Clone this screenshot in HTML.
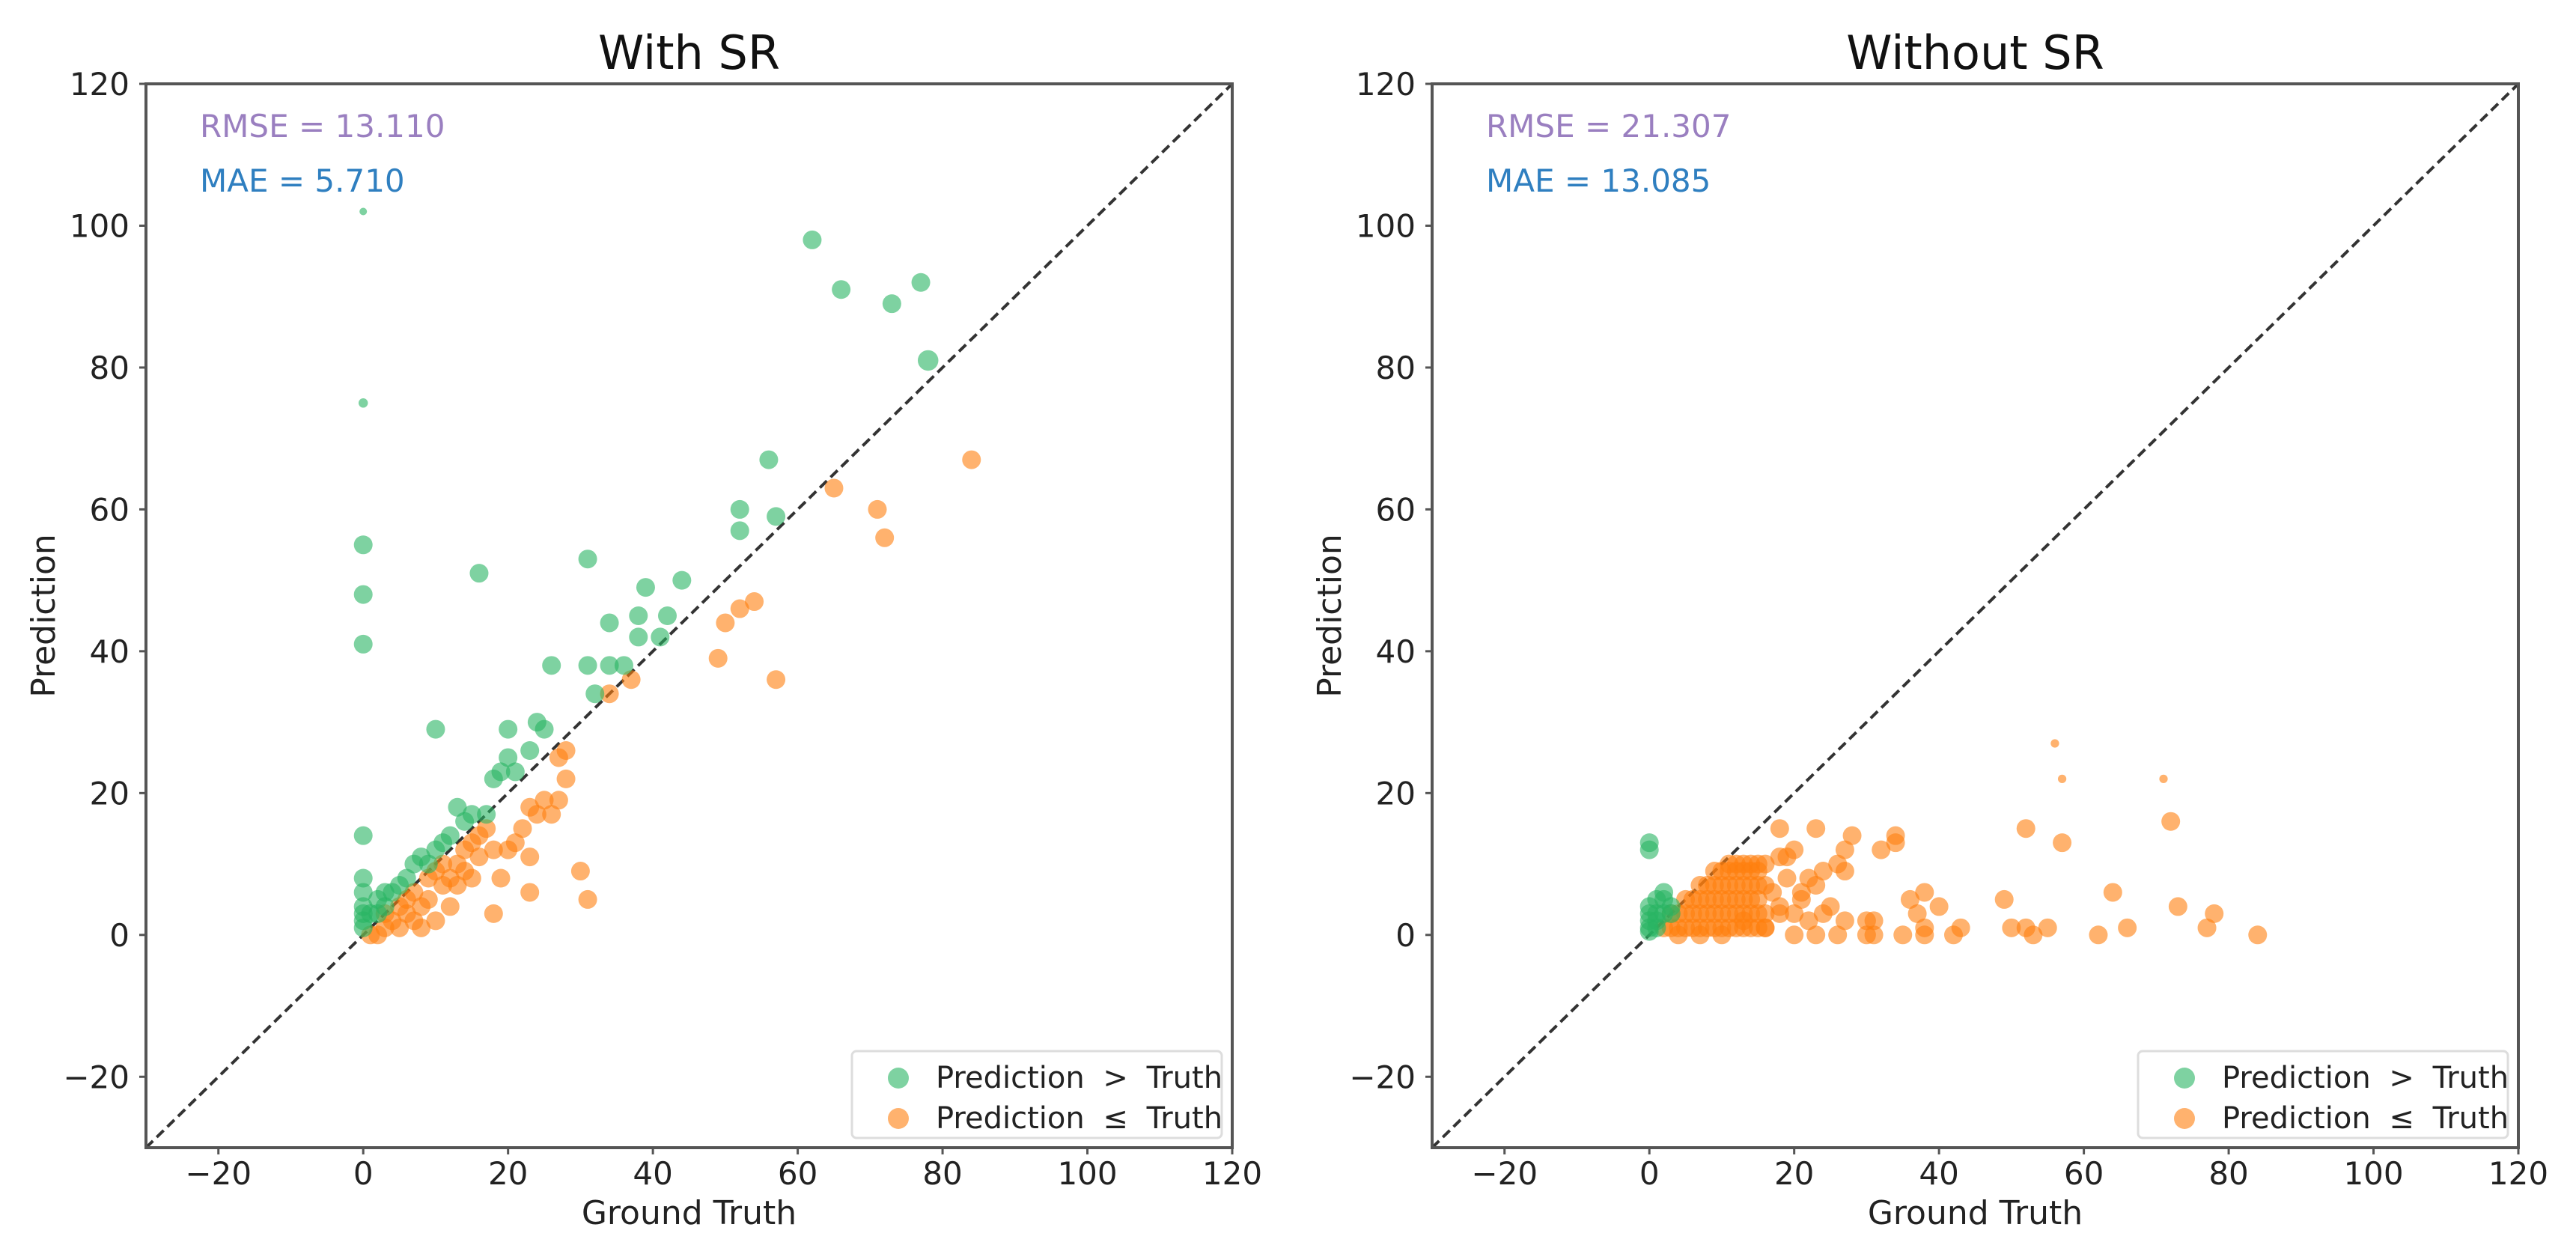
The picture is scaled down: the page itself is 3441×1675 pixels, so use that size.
<!DOCTYPE html>
<html><head><meta charset="utf-8"><style>
html,body{margin:0;padding:0;background:#fff}
svg{display:block}
text{font-family:"DejaVu Sans","Liberation Sans",sans-serif}
</style></head><body>
<svg id="chart" width="3441" height="1675" viewBox="0 0 3441 1675" xmlns="http://www.w3.org/2000/svg"></svg>
<script>
const xTicks=[-20,0,20,40,60,80,100,120];
const yTicks=[-20,0,20,40,60,80,100,120];
const titles=["With SR","Without SR"];
const rmseLabels=["RMSE = 13.110","RMSE = 21.307"];
const maeLabels=["MAE = 5.710","MAE = 13.085"];
const leftGreenX=[0,0,0,0,0,16,31,62,66,73,77,78,56,52,52,57,44,39,38,42,34,38,41,26,31,34,36,32,10,20,24,25,23,20,19,18,13,14,0,0,0,0,0,2,3,5,7,8,10,12,15,1,3,6,9,11,4,2,0,0,17,21];
const leftGreenY=[102,75,55,48,41,51,53,98,91,89,92,81,67,60,57,59,50,49,45,45,44,42,42,38,38,38,38,34,29,29,30,29,26,25,23,22,18,16,14,8,6,4,3,5,6,7,10,11,12,14,17,3,4,8,10,13,6,3,2,1,17,23];
const leftGreenS=[0.4,0.5,1,1,1,1,1,1,1,1,1,1.1,1,1,1,1,1,1,1,1,1,1,1,1,1,1,1,1,1,1,1,1,1,1,1,1,1,1,1,1,1,1,1,1,1,1,1,1,1,1,1,1,1,1,1,1,1,1,1,1,1,1];
const leftOrangeX=[84,65,71,72,57,49,50,52,54,37,34,28,27,28,27,23,24,22,17,18,20,23,30,31,23,19,18,15,14,13,12,11,10,9,8,7,6,5,4,3,2,1,8,10,13,16,16,12,14,5,7,9,11,3,6,15,21,25,26];
const leftOrangeY=[67,63,60,56,36,39,44,46,47,36,34,26,25,22,19,18,17,15,15,12,12,11,9,5,6,8,3,13,12,10,8,7,9,5,4,2,3,1,2,1,0,0,1,2,7,14,11,4,9,4,6,8,10,3,5,8,13,19,17];
const rightGreenX=[0,0,0,0,0,1,1,2,2,3,1,0,2,3,0,1];
const rightGreenY=[13,12,4,3,2,3,2,5,6,4,1,1,3,3,0.5,5];
const rightOrangeX=[56,57,71,72,57,52,34,34,32,28, 27,23,18,18,19,20,24,26,22,23, 27,21,25,24,27,31,31,30,26,23, 20,16,18,64,73,78,77,84,66,62, 55,53,52,50,49,43,42,40,38,37, 38,36,35,38,10,7,4,30];
const rightOrangeY=[27,22,22,16,13,15,14,13,12,14, 12,15,15,11,11,12,9,10,8,7, 9,6,4,3,2,2,0,0,0,0, 0,1,3,6,4,3,1,0,1,0, 1,0,1,1,5,1,0,4,6,3, 1,5,0,0,0,0,0,2];
const rightOrangeS=[0.45,0.45,0.45,1,1,1,1,1,1,1, 1,1,1,1,1,1,1,1,1,1, 1,1,1,1,1,1,1,1,1,1, 1,1,1,1,1,1,1,1,1,1, 1,1,1,1,1,1,1,1,1,1, 1,1,1,1,1,1,1,1];
const clusterX=[2,3,4,5,6,7,8,9,10,11,12,13,14,15,16, 3,4,5,6,7,8,9,10,11,12,13,14,15,16, 5,6,7,8,9,10,11,12,13,14,15, 7,8,9,10,11,12,13,14,15, 9,10,11,12,13,14,15, 11,12,13,14,15,16, 17,18,20,22,21,19,16,13];
const clusterY=[1,1,1,1,1,1,1,1,1,1,1,1,1,1,1, 3,3,3,3,3,3,3,3,3,3,3,3,3,3, 5,5,5,5,5,5,5,5,5,5,5, 7,7,7,7,7,7,7,7,7, 9,9,9,9,9,9,9, 10,10,10,10,10,10, 6,4,3,2,5,8,7,2];

const svg=document.getElementById('chart');
const NS='http://www.w3.org/2000/svg';
function mk(tag,attrs,parent){const e=document.createElementNS(NS,tag);for(const k in attrs)e.setAttribute(k,attrs[k]);(parent||svg).appendChild(e);return e;}
const panels=[{x0:195,x1:1646},{x0:1913,x1:3364}];
const Y0=112,Y1=1533,DMIN=-30,DMAX=120;
const GREEN='rgba(40,180,99,0.6)',ORANGE='rgba(255,127,14,0.6)';

panels.forEach((p,pi)=>{
  const g=mk('g',{});
  
  
  const sx=v=>p.x0+(v-DMIN)/(DMAX-DMIN)*(p.x1-p.x0);
  const sy=v=>Y1-(v-DMIN)/(DMAX-DMIN)*(Y1-Y0);
  const cx=(p.x0+p.x1)/2;
  const t=mk('text',{x:cx,y:92,'font-size':62,'text-anchor':'middle',fill:'#111'},g);t.textContent=titles[pi];
  
  const dl=mk('line',{x1:sx(DMIN),y1:sy(DMIN),x2:sx(DMAX),y2:sy(DMAX),stroke:'#333','stroke-width':4,'stroke-dasharray':'13,7'},g);
  
  function dots(xs,ys,ss,col,name){
    xs.forEach((x,i)=>{const c=mk('circle',{cx:sx(x),cy:sy(ys[i]),r:12.5*(ss?ss[i]:1),fill:col},g);
      });
  }
  if(pi===0){dots(leftOrangeX,leftOrangeY,null,ORANGE,'point-under');dots(leftGreenX,leftGreenY,leftGreenS,GREEN,'point-over');}
  else{dots(rightOrangeX,rightOrangeY,rightOrangeS,ORANGE,'point-under');dots(clusterX,clusterY,null,ORANGE,'point-under');dots(rightGreenX,rightGreenY,null,GREEN,'point-over');}
  const fr=mk('rect',{x:p.x0,y:Y0,width:p.x1-p.x0,height:Y1-Y0,fill:'none',stroke:'#555','stroke-width':4},g);
  
  xTicks.forEach(v=>{mk('line',{x1:sx(v),x2:sx(v),y1:Y1,y2:Y1+9,stroke:'#555','stroke-width':3},g);
    const l=mk('text',{x:sx(v),y:1582,'font-size':42,'text-anchor':'middle',fill:'#222'},g);l.textContent=v<0?'\u2212'+(-v):v;
    });
  yTicks.forEach(v=>{mk('line',{x1:p.x0-9,x2:p.x0,y1:sy(v),y2:sy(v),stroke:'#555','stroke-width':3},g);
    const l=mk('text',{x:p.x0-22,y:sy(v)+15,'font-size':42,'text-anchor':'end',fill:'#222'},g);l.textContent=v<0?'\u2212'+(-v):v;
    });
  const xl=mk('text',{x:cx,y:1635,'font-size':44,'text-anchor':'middle',fill:'#222'},g);xl.textContent='Ground Truth';
  
  const yl=mk('text',{x:0,y:0,'font-size':44,'text-anchor':'middle',fill:'#222',transform:`translate(${p.x0-122},${(Y0+Y1)/2}) rotate(-90)`},g);yl.textContent='Prediction';
  
  const r=mk('text',{x:p.x0+72,y:183,'font-size':42,fill:'#9a7fc0'},g);r.textContent=rmseLabels[pi];
  
  const m=mk('text',{x:p.x0+72,y:256,'font-size':42,fill:'#2f7fc0'},g);m.textContent=maeLabels[pi];
  
  const lg=mk('g',{},g);
  const off=p.x0-195;
  mk('rect',{x:1138+off,y:1404,width:494,height:116,fill:'#fff','fill-opacity':0.85,stroke:'#ddd','stroke-width':3,rx:6},lg);
  [['Prediction > Truth',GREEN,1438],['Prediction \u2264 Truth',ORANGE,1492]].forEach(([txt,col,yy])=>{
    const e=mk('g',{},lg);
    mk('circle',{cx:1200+off,cy:yy+2,r:14,fill:col},e);
    const tt=mk('text',{x:1250+off,y:yy+15,'font-size':40,fill:'#222','word-spacing':12},e);tt.textContent=txt;
  });
});
</script>
</body></html>
